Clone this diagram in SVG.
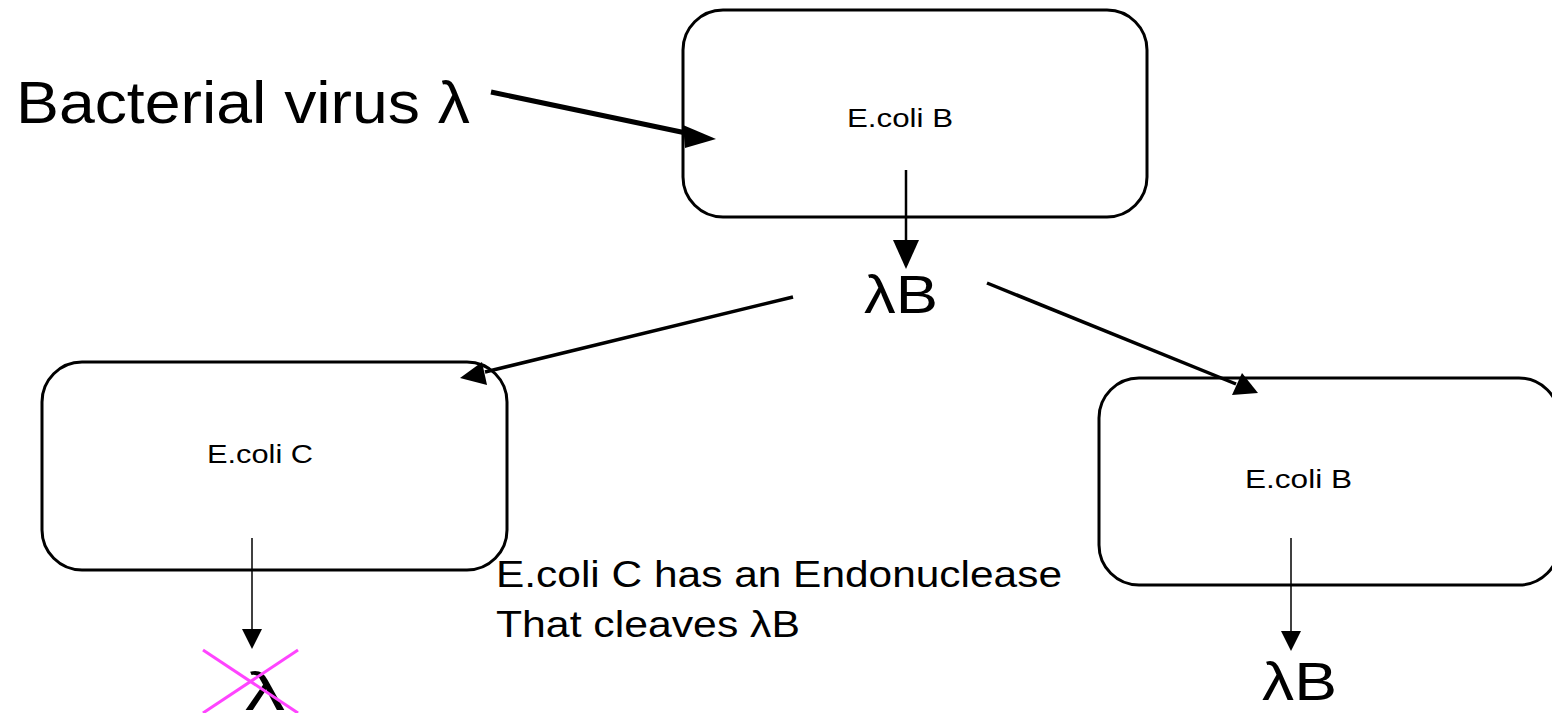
<svg xmlns="http://www.w3.org/2000/svg" width="1552" height="713" viewBox="0 0 1552 713">
  <style>
    .box { fill: #ffffff; stroke: #000000; stroke-width: 3; }
    .t { font-family: "Liberation Sans", Arial, sans-serif; fill: #000000; }
    .conn { stroke: #000000; fill: none; }
    .cross { stroke: #ff44ff; stroke-width: 3; }
  </style>
  <rect width="1552" height="713" fill="#ffffff"/>

  <g id="node-ecoli-b-top">
    <rect class="box" x="683" y="10" width="464" height="207" rx="40" ry="40"/>
    <text class="t" x="847" y="127" font-size="26" textLength="106" lengthAdjust="spacingAndGlyphs">E.coli B</text>
  </g>

  <g id="node-ecoli-c">
    <rect class="box" x="42" y="362" width="465" height="208" rx="40" ry="40"/>
    <text class="t" x="207" y="463" font-size="26" textLength="106" lengthAdjust="spacingAndGlyphs">E.coli C</text>
  </g>

  <g id="node-ecoli-b-right">
    <rect class="box" x="1099" y="378" width="460" height="207" rx="40" ry="40"/>
    <text class="t" x="1245" y="488" font-size="26" textLength="107" lengthAdjust="spacingAndGlyphs">E.coli B</text>
  </g>

  <g id="label-virus">
    <text class="t" x="16" y="123" font-size="60" textLength="454" lengthAdjust="spacingAndGlyphs">Bacterial virus λ</text>
  </g>

  <g id="label-lambda-b-mid">
    <text class="t" x="864" y="313" font-size="53" textLength="74" lengthAdjust="spacingAndGlyphs">λB</text>
  </g>

  <g id="label-note">
    <text class="t" x="496" y="587" font-size="37.5" textLength="566" lengthAdjust="spacingAndGlyphs">E.coli C has an Endonuclease</text>
    <text class="t" x="496" y="637" font-size="37.5" textLength="304" lengthAdjust="spacingAndGlyphs">That cleaves λB</text>
  </g>

  <g id="label-lambda-b-right">
    <text class="t" x="1262" y="700" font-size="54" textLength="75" lengthAdjust="spacingAndGlyphs">λB</text>
  </g>

  <g id="label-lambda-cut">
    <text class="t" x="245" y="710" font-size="54" textLength="40" lengthAdjust="spacingAndGlyphs">λ</text>
    <line class="cross" x1="203" y1="650" x2="298" y2="713"/>
    <line class="cross" x1="298" y1="650" x2="203" y2="713"/>
  </g>

  <g id="connectors">
    <!-- virus into host -->
    <line class="conn" x1="491" y1="92" x2="686" y2="133" stroke-width="5"/>
    <path d="M716,139 L683,125 L685,148 Z" fill="#000000"/>
    <!-- top host releases phage -->
    <line class="conn" x1="906" y1="170" x2="906" y2="242" stroke-width="2.5"/>
    <path d="M906,269 L893,240 L919,240 Z" fill="#000000"/>
    <!-- to E.coli C -->
    <line class="conn" x1="793" y1="297" x2="485" y2="372" stroke-width="3.5"/>
    <path d="M460,378 L482,362 L487,385 Z" fill="#000000"/>
    <!-- to E.coli B -->
    <line class="conn" x1="987" y1="283" x2="1236" y2="384" stroke-width="3.5"/>
    <path d="M1258,393 L1232,395 L1242,373 Z" fill="#000000"/>
    <!-- E.coli C output -->
    <line class="conn" x1="252" y1="538" x2="252" y2="630" stroke-width="1.5"/>
    <path d="M252,649 L242,629 L262,629 Z" fill="#000000"/>
    <!-- E.coli B output -->
    <line class="conn" x1="1291" y1="538" x2="1291" y2="632" stroke-width="1.5"/>
    <path d="M1291,651 L1281,631 L1301,631 Z" fill="#000000"/>
  </g>
</svg>
